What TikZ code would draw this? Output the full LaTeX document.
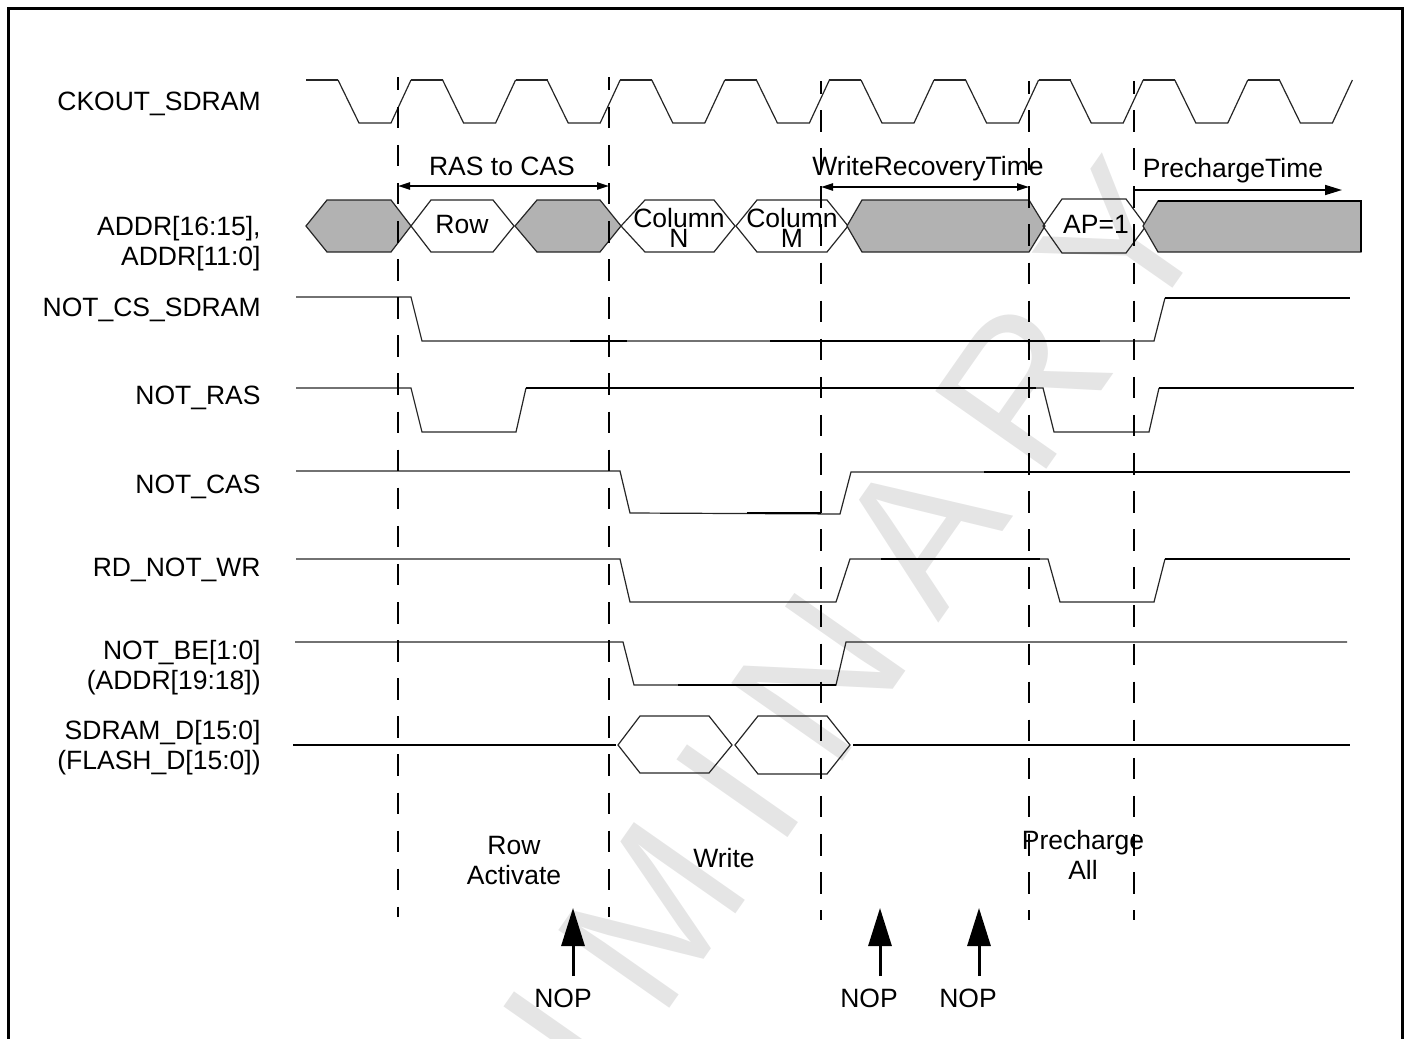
\documentclass[tikz,border=0pt]{standalone}
\usepackage{fontspec}
\setmainfont{Liberation Sans}
\newfontfamily\markfont[LetterSpace=21]{Liberation Sans}
\usetikzlibrary{arrows.meta}
\definecolor{busgray}{HTML}{B2B2B2}
\definecolor{markgray}{HTML}{E5E5E5}
\tikzset{
  wave/.style={line width=0.6pt,black!85,line join=miter},
  wavebold/.style={line width=1.05pt,black},
  bus/.style={line width=0.6pt,black!85,line join=miter},
  guide/.style={line width=0.95pt,black,dash pattern=on 10.75pt off 8.3pt},
  span/.style={line width=0.85pt,{Triangle[length=6pt,width=3.6pt]}-{Triangle[length=6pt,width=3.6pt]}},
  nop/.style={line width=1.5pt,-{Triangle[length=19pt,width=11.5pt]}},
  sig/.style={font=\fontsize{13.25}{15}\selectfont,anchor=base east,inner sep=0pt},
  sigtwo/.style={font=\fontsize{13.25}{15}\selectfont,anchor=east,align=right,inner sep=0pt},
  tag/.style={font=\fontsize{13.25}{15}\selectfont,anchor=base,inner sep=0pt},
  tagtwo/.style={font=\fontsize{13.25}{15}\selectfont,align=center,inner sep=0pt},
}
\begin{document}
\begin{tikzpicture}[x=0.5pt,y=-0.5pt]
\useasboundingbox (0,0) rectangle (1404,1039);
% watermark
\begin{scope}
\clip (0,0) rectangle (1404,1039);
\node[rotate=55,text=markgray,font=\markfont\fontsize{98.5}{100}\selectfont,inner sep=0pt] (mark) at (660,903) {PRELIMINARY};
\end{scope}
% frame, open at the bottom
\draw[line width=1.5pt] (8,1039) -- (8,8) -- (1402,8) -- (1402,1039);
% clock
\draw[wave] (306,80) -- (338,80);
\foreach \k in {0,...,9} {
  \draw[wave] ({338+\k*104.6},80) -- ({359+\k*104.6},123) -- ({391+\k*104.6},123) -- ({411+\k*104.6},80);
}
\foreach \k in {0,...,8} {
  \draw[wave] ({411+\k*104.6},80) -- ({443+\k*104.6},80);
}
% bus
\draw[bus,fill=busgray] (306,226) -- (327,200) -- (391,200) -- (411,226) -- (391,252) -- (327,252) -- cycle;
\draw[bus] (411,226) -- (431,200) -- (493,200) -- (514,226) -- (493,252) -- (431,252) -- cycle;
\draw[bus,fill=busgray] (515,226) -- (537,200) -- (600,200) -- (621,226) -- (600,252) -- (537,252) -- cycle;
\draw[bus] (621,226) -- (645,200) -- (714,200) -- (735,226) -- (714,252) -- (645,252) -- cycle;
\draw[bus] (736,226) -- (757,200) -- (827,200) -- (848,226) -- (827,252) -- (757,252) -- cycle;
\draw[bus,fill=busgray] (847,226) -- (862,200) -- (1029,200) -- (1045,226) -- (1029,252) -- (862,252) -- cycle;
\draw[bus] (1043,226) -- (1062,199) -- (1126,199) -- (1146,226) -- (1126,253) -- (1062,253) -- cycle;
\draw[bus,fill=busgray] (1143,226) -- (1158,201) -- (1361,201) -- (1361,252) -- (1158,252) -- cycle;
\draw[wavebold] (1158,201) -- (1361,201) -- (1361,252);
% control lines
\draw[wave] (296,297) -- (411,297) -- (422,341) -- (1154,341) -- (1165,298);
\draw[wavebold] (570,341) -- (627,341);
\draw[wavebold] (770,341) -- (1100,341);
\draw[wavebold] (1165,298) -- (1350,298);
\draw[wave] (296,388) -- (411,388) -- (422,432) -- (516,432) -- (526,388);
\draw[wavebold] (526,388) -- (1036,388);
\draw[wave] (1036,388) -- (1043,388) -- (1054,432) -- (1149,432) -- (1159,388);
\draw[wavebold] (1159,388) -- (1354,388);
\draw[wave] (296,471) -- (620,471) -- (630,513) -- (840,514) -- (851,472) -- (984,472);
\draw[wavebold] (747,513) -- (821,513);
\draw[wavebold] (984,472) -- (1350,472);
\draw[wave] (296,559) -- (620,559) -- (630,602) -- (836,602) -- (850,559) -- (881,559);
\draw[wavebold] (881,559) -- (1040,559);
\draw[wave] (1040,559) -- (1048,559) -- (1060,602) -- (1154,602) -- (1165,559);
\draw[wavebold] (1165,559) -- (1350,559);
\draw[wave] (295,642) -- (623,642) -- (634,685) -- (836,685) -- (846,642) -- (1347,642);
\draw[wavebold] (678,685) -- (836,685);
% data
\draw[wavebold] (293,745) -- (616,745);
\draw[bus] (618,745) -- (640,716) -- (709,716) -- (732,745) -- (709,773) -- (640,773) -- cycle;
\draw[bus] (735,745) -- (758,716) -- (827,716) -- (850,745) -- (827,774) -- (758,774) -- cycle;
\draw[wavebold] (853,745) -- (1350,745);
% guide lines
\foreach \x in {398,609} {
  \draw[guide,dash phase=4.2pt] (\x,77) -- (\x,917);
}
\foreach \x in {821,1029,1134} {
  \draw[guide,dash phase=4.5pt] (\x,81) -- (\x,920);
}
% timing spans
\coordinate (rasL) at (398,186);
\coordinate (rasR) at (609,186);
\coordinate (wrL) at (821,187);
\coordinate (wrR) at (1029,187);
\coordinate (preL) at (1134,190);
\coordinate (preR) at (1342,190);
\draw[span] (rasL) -- (rasR);
\draw[span] (wrL) -- (wrR);
\draw[line width=0.85pt,-{Triangle[length=8.5pt,width=5pt]}] (preL) -- (preR);
\node[tag] (rascas) at (502,175) {RAS to CAS};
\node[tag] (wrtime) at (928,175) {WriteRecoveryTime};
\node[tag] (pretime) at (1233,177) {PrechargeTime};
% signal names
\node[sig] (ckout) at (261,110) {CKOUT\_SDRAM};
\node[sigtwo] (addr) at (261,244) {ADDR[16:15],\\ADDR[11:0]};
\node[sig] (cs) at (261,316) {NOT\_CS\_SDRAM};
\node[sig] (ras) at (261,404) {NOT\_RAS};
\node[sig] (cas) at (261,493) {NOT\_CAS};
\node[sig] (rdwr) at (261,576) {RD\_NOT\_WR};
\node[sigtwo] (be) at (261,668) {NOT\_BE[1:0]\\(ADDR[19:18])};
\node[sigtwo] (sd) at (261,748) {SDRAM\_D[15:0]\\(FLASH\_D[15:0])};
% bus values
\node[tag] (row) at (462,233) {Row};
\node[tagtwo,font=\fontsize{13.25}{9}\selectfont] (colN) at (679,228) {Column\\N};
\node[tagtwo,font=\fontsize{13.25}{9}\selectfont] (colM) at (792,228) {Column\\M};
\node[tag] (ap) at (1096,233) {AP=1};
% commands
\node[tagtwo] (act) at (514,861) {Row\\Activate};
\node[tag] (wr) at (724,867) {Write};
\node[tagtwo] (pre) at (1083,855) {Precharge\\All};
\node[tag] (nopA) at (563,1007) {NOP};
\node[tag] (nopB) at (869,1007) {NOP};
\node[tag] (nopC) at (968,1007) {NOP};
\coordinate (tipA) at (573,908);
\coordinate (tipB) at (880,908);
\coordinate (tipC) at (979,908);
\coordinate (tailA) at (573,976);
\coordinate (tailB) at (880,976);
\coordinate (tailC) at (979,976);
\draw[nop] (tailA) -- (tipA);
\draw[nop] (tailB) -- (tipB);
\draw[nop] (tailC) -- (tipC);
\end{tikzpicture}
\end{document}
